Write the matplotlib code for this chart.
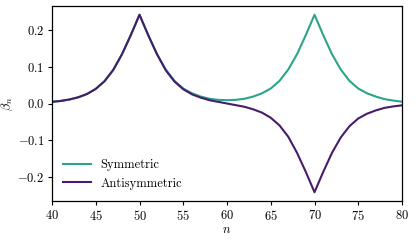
import numpy as np
import matplotlib
matplotlib.use("Agg")
import matplotlib.pyplot as plt

plt.rcParams['font.family'] = 'serif'
plt.rcParams['font.serif'] = ['cmr10']
plt.rcParams['mathtext.fontset'] = 'cm'
plt.rcParams['axes.formatter.use_mathtext'] = True
plt.rcParams['font.size'] = 9

# mode index
n = np.arange(40, 81)

# values, one per integer n
symmetric = [0.0045, 0.007, 0.011, 0.017, 0.026, 0.040, 0.061, 0.092, 0.135, 0.187,
             0.243, 0.187, 0.135, 0.093, 0.062, 0.041, 0.028, 0.019, 0.013, 0.010,
             0.009, 0.010, 0.013, 0.019, 0.028, 0.041, 0.062, 0.093, 0.135, 0.187,
             0.243, 0.187, 0.135, 0.093, 0.062, 0.041, 0.028, 0.019, 0.012, 0.008,
             0.005]
antisymmetric = [0.0045, 0.007, 0.011, 0.017, 0.026, 0.040, 0.061, 0.092, 0.135, 0.187,
                 0.243, 0.187, 0.135, 0.091, 0.060, 0.039, 0.025, 0.016, 0.009, 0.0045,
                 0.0, -0.0045, -0.009, -0.016, -0.025, -0.039, -0.060, -0.091, -0.135, -0.187,
                 -0.243, -0.187, -0.135, -0.093, -0.062, -0.041, -0.028, -0.019, -0.012, -0.008,
                 -0.005]

fig = plt.figure(figsize=(4.15, 2.4), dpi=100)
ax = fig.add_axes([0.1253, 0.1625, 0.8434, 0.8125])

ax.plot(n, symmetric, color='#2aa58a', lw=1.5, label='Symmetric')
ax.plot(n, antisymmetric, color='#461c6b', lw=1.5, label='Antisymmetric')

ax.set_xlim(40, 80)
ax.set_ylim(-0.267, 0.267)
ax.set_xticks([40, 45, 50, 55, 60, 65, 70, 75, 80])
ax.set_yticks([-0.2, -0.1, 0.0, 0.1, 0.2])
ax.tick_params(direction='out', length=3, width=0.8, pad=2.5)
for s in ax.spines.values():
    s.set_linewidth(0.9)

ax.set_xlabel(r'$n$', labelpad=1)
ax.set_ylabel(r'$\beta_n$')
ax.yaxis.set_label_coords(-0.105, 0.5)
ax.legend(loc='lower left', frameon=False, handlelength=2.2)

plt.savefig('out.png', dpi=100)
plt.close()
